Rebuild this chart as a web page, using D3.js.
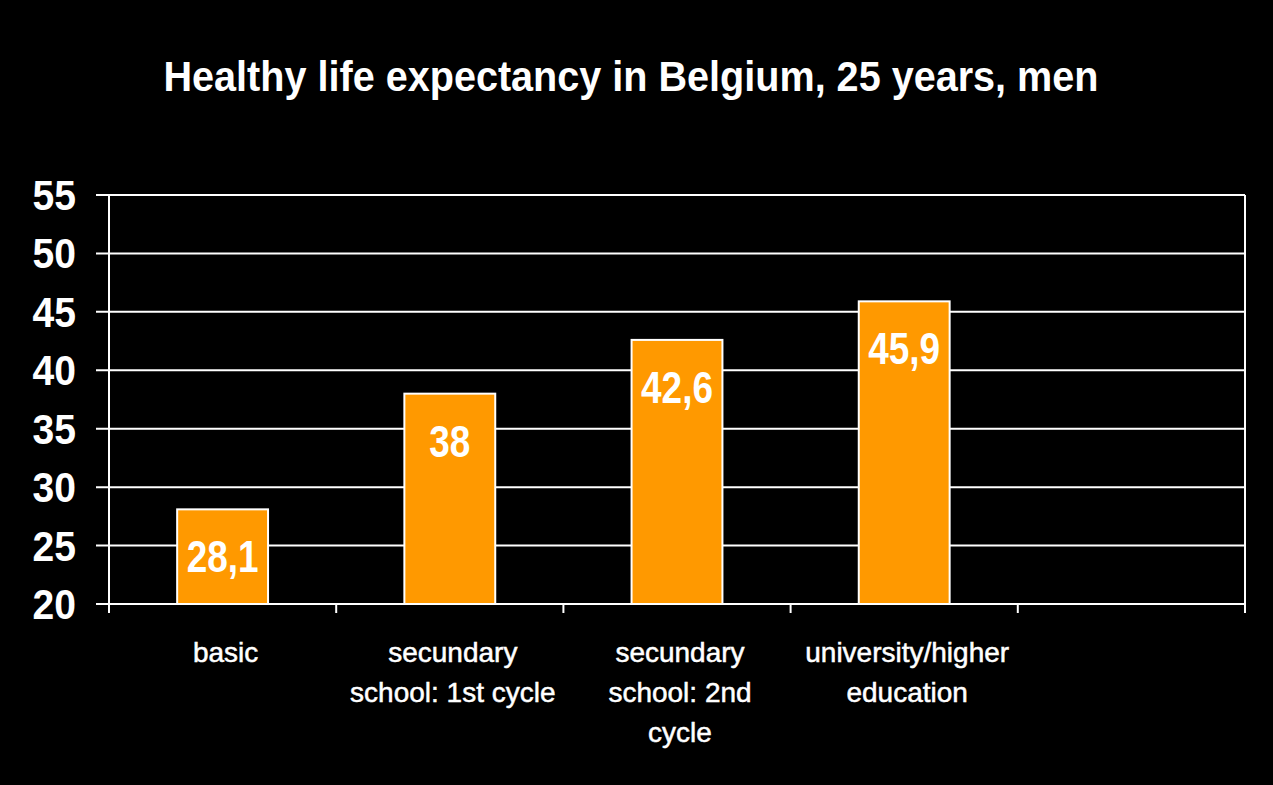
<!DOCTYPE html>
<html><head><meta charset="utf-8">
<script src="https://cdn.jsdelivr.net/npm/d3@7"></script>
<style>html,body{margin:0;padding:0;background:#000;}svg{display:block;}</style>
</head><body>
<script>
const title = "Healthy life expectancy in Belgium, 25 years, men";
const categories = ["basic", "secundary school: 1st cycle", "secundary school: 2nd cycle", "university/higher education", ""];
const categoryLines = [["basic"], ["secundary", "school: 1st cycle"], ["secundary", "school: 2nd", "cycle"], ["university/higher", "education"], []];
const values = [28.1, 38, 42.6, 45.9, null];
const valueLabels = ["28,1", "38", "42,6", "45,9", ""];
const yTicks = [20, 25, 30, 35, 40, 45, 50, 55];

const W = 1273, H = 785;
const m = {left: 109, right: 1245, top: 195, bottom: 604};
const svg = d3.select("body").append("svg").attr("width", W).attr("height", H);
svg.append("rect").attr("width", W).attr("height", H).attr("fill", "#000");

const x = d3.scaleBand().domain(categories.map((c,i)=>i)).range([m.left, m.right]).paddingInner(0).paddingOuter(0);
const y = d3.scaleLinear().domain([20, 55]).range([m.bottom, m.top]);

// gridlines
svg.append("g").selectAll("line").data(yTicks).join("line")
  .attr("x1", m.left - 13).attr("x2", m.right)
  .attr("y1", d => y(d)).attr("y2", d => y(d))
  .attr("stroke", "#fff").attr("stroke-width", 2);

// y axis line
svg.append("line").attr("x1", m.left).attr("x2", m.left).attr("y1", m.top).attr("y2", m.bottom + 9)
  .attr("stroke", "#fff").attr("stroke-width", 2);
// right border
svg.append("line").attr("x1", m.right).attr("x2", m.right).attr("y1", m.top).attr("y2", m.bottom + 9)
  .attr("stroke", "#fff").attr("stroke-width", 2);
// category ticks
const bounds = categories.map((c,i)=>x(i)).concat([m.right]);
svg.append("g").selectAll("line").data(bounds).join("line")
  .attr("x1", d=>d).attr("x2", d=>d).attr("y1", m.bottom).attr("y2", m.bottom + 9)
  .attr("stroke", "#fff").attr("stroke-width", 2);

// y labels
svg.append("g").selectAll("text").data(yTicks).join("text")
  .attr("transform", d => `translate(76,${y(d) + 15}) scale(0.93,1)`)
  .attr("text-anchor", "end")
  .attr("font-family", "Liberation Sans, Arial, sans-serif").attr("font-weight", "bold")
  .attr("font-size", 42).attr("fill", "#fff")
  .text(d => d);

// bars
const bw = x.bandwidth() * 0.4;
const barData = values.map((v,i)=>({v, i})).filter(d => d.v != null);
svg.append("g").selectAll("rect").data(barData).join("rect")
  .attr("x", d => x(d.i) + x.bandwidth()/2 - bw/2)
  .attr("width", bw)
  .attr("y", d => y(d.v))
  .attr("height", d => y(20) - y(d.v))
  .attr("fill", "#FF9900").attr("stroke", "#fff").attr("stroke-width", 2);

// value labels
svg.append("g").selectAll("text").data(barData).join("text")
  .attr("transform", d => `translate(${x(d.i) + x.bandwidth()/2},${y(d.v) + 63}) scale(0.84,1)`)
  .attr("text-anchor", "middle")
  .attr("font-family", "Liberation Sans, Arial, sans-serif").attr("font-weight", "bold")
  .attr("font-size", 44).attr("fill", "#fff")
  .text(d => valueLabels[d.i]);

// category labels
categoryLines.forEach((lines, i) => {
  const t = svg.append("text")
    .attr("text-anchor", "middle")
    .attr("font-family", "Liberation Sans, Arial, sans-serif")
    .attr("font-size", 28).attr("fill", "#fff")
    .attr("stroke", "#fff").attr("stroke-width", 0.5);
  lines.forEach((ln, j) => {
    t.append("tspan").attr("x", x(i) + x.bandwidth()/2 + 3).attr("y", 662 + j * 40).text(ln);
  });
});

// title
svg.append("text").attr("x", 631).attr("y", 91)
  .attr("text-anchor", "middle")
  .attr("textLength", 935).attr("lengthAdjust", "spacingAndGlyphs")
  .attr("font-family", "Liberation Sans, Arial, sans-serif").attr("font-weight", "bold")
  .attr("font-size", 42).attr("fill", "#fff")
  .text(title);
</script>
</body></html>
